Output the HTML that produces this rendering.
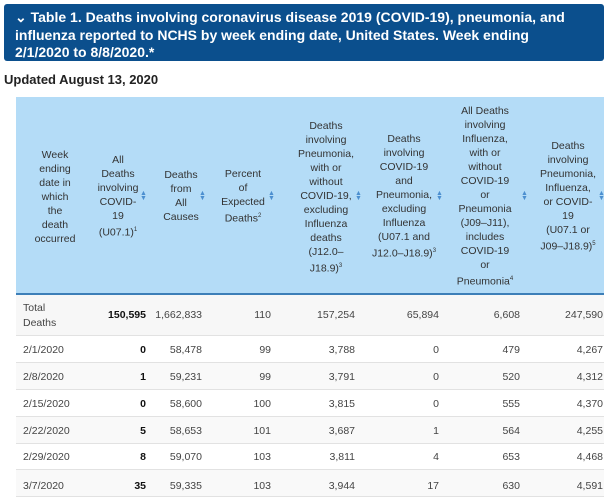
<!DOCTYPE html>
<html><head><meta charset="utf-8"><style>
body{margin:0;width:609px;height:485px;overflow:hidden;background:#fff;font-family:"Liberation Sans",sans-serif;position:relative}
.t{position:absolute;left:4px;top:4px;width:600px;height:57px;background:#0b4f8d;border-radius:3px;color:#fff;font-weight:bold;font-size:14px;line-height:17.5px;box-sizing:border-box;padding:5px 0 0 11px;white-space:nowrap}
.u{position:absolute;left:4px;top:72px;font-weight:bold;font-size:13px;color:#222}
.hd{position:absolute;left:16px;top:97px;width:588px;height:196px;background:#b4dcf7;border-bottom:2px solid #3d7fb8}
.h{position:absolute;font-size:10.5px;line-height:14px;color:#333;text-align:center;transform:translate(-50%,-50%);white-space:nowrap}
.ic{position:absolute;color:#4c8fd0;font-size:7px;line-height:5px;transform:translateY(-50%)}
.r{position:absolute;left:16px;width:588px;border-bottom:1px solid #e2e2e2;background:#f7f7f7}
.c{position:absolute;font-size:10.5px;color:#444;text-align:right}
.b{font-weight:bold;color:#111}
sup{font-size:6px}
</style></head><body>
<div class="t">⌄ Table 1. Deaths involving coronavirus disease 2019 (COVID-19), pneumonia, and<br>influenza reported to NCHS by week ending date, United States. Week ending<br>2/1/2020 to 8/8/2020.*</div>
<div class="u">Updated August 13, 2020</div>
<div class="hd"></div>
<div class="h" style="left:55px;top:197px">Week<br>ending<br>date in<br>which<br>the<br>death<br>occurred</div>
<div class="h" style="left:118px;top:196px">All<br>Deaths<br>involving<br>COVID-<br>19<br>(U07.1)<sup>1</sup></div>
<div class="ic" style="left:140px;top:196px">▲<br>▼</div>
<div class="h" style="left:181px;top:196px">Deaths<br>from<br>All<br>Causes</div>
<div class="ic" style="left:199px;top:196px">▲<br>▼</div>
<div class="h" style="left:243px;top:196px">Percent<br>of<br>Expected<br>Deaths<sup>2</sup></div>
<div class="ic" style="left:268px;top:196px">▲<br>▼</div>
<div class="h" style="left:326px;top:197px">Deaths<br>involving<br>Pneumonia,<br>with or<br>without<br>COVID-19,<br>excluding<br>Influenza<br>deaths<br>(J12.0–<br>J18.9)<sup>3</sup></div>
<div class="ic" style="left:355px;top:196px">▲<br>▼</div>
<div class="h" style="left:404px;top:196px">Deaths<br>involving<br>COVID-19<br>and<br>Pneumonia,<br>excluding<br>Influenza<br>(U07.1 and<br>J12.0–J18.9)<sup>3</sup></div>
<div class="ic" style="left:436px;top:196px">▲<br>▼</div>
<div class="h" style="left:485px;top:196px">All Deaths<br>involving<br>Influenza,<br>with or<br>without<br>COVID-19<br>or<br>Pneumonia<br>(J09–J11),<br>includes<br>COVID-19<br>or<br>Pneumonia<sup>4</sup></div>
<div class="ic" style="left:521px;top:196px">▲<br>▼</div>
<div class="h" style="left:568px;top:196px">Deaths<br>involving<br>Pneumonia,<br>Influenza,<br>or COVID-<br>19<br>(U07.1 or<br>J09–J18.9)<sup>5</sup></div>
<div class="ic" style="left:598px;top:196px">▲<br>▼</div>

<div class="r" style="top:295px;height:40px"></div>
<div class="r" style="top:336px;height:26px;background:#fff"></div>
<div class="r" style="top:363px;height:26px;background:#f9f9f9"></div>
<div class="r" style="top:390px;height:26px;background:#fff"></div>
<div class="r" style="top:417px;height:26px;background:#f9f9f9"></div>
<div class="r" style="top:444px;height:25px;background:#fff"></div>
<div class="r" style="top:470px;height:26px;background:#f9f9f9"></div>

<div id="rows"></div>
<script>
var data=[["Total<br>Deaths","150,595","1,662,833","110","157,254","65,894","6,608","247,590",315],
["2/1/2020","0","58,478","99","3,788","0","479","4,267",350],
["2/8/2020","1","59,231","99","3,791","0","520","4,312",377],
["2/15/2020","0","58,600","100","3,815","0","555","4,370",404],
["2/22/2020","5","58,653","101","3,687","1","564","4,255",431],
["2/29/2020","8","59,070","103","3,811","4","653","4,468",457],
["3/7/2020","35","59,335","103","3,944","17","630","4,591",486]];
var rights=[146,202,271,355,439,520,603];var h="";
data.forEach(function(d){var y=d[8];
h+='<div class="c" style="left:23px;text-align:left;top:'+(y-(d[0].indexOf("br")>0?14:7))+'px;line-height:15px">'+d[0]+'</div>';
for(var i=1;i<8;i++){h+='<div class="c'+(i==1?' b':'')+'" style="right:'+(609-rights[i-1])+'px;top:'+(y-7)+'px;line-height:14px">'+d[i]+'</div>';}});
document.getElementById("rows").innerHTML=h;
</script>
</body></html>
